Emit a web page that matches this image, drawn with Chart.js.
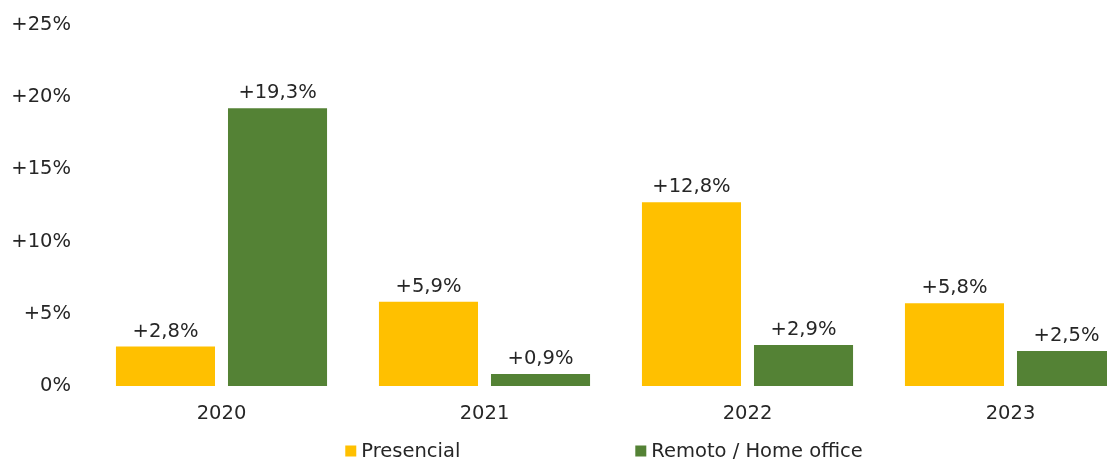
<!DOCTYPE html>
<html lang="pt-BR">
<head>
<meta charset="utf-8">
<script src="https://cdn.jsdelivr.net/npm/chart.js@4.4.0/dist/chart.umd.min.js"></script>
<style>
  html, body { margin: 0; padding: 0; background: #fff; overflow: hidden; }
  #caixa { width: 1142px; height: 459px; }
</style>
</head>
<body>
<div id="caixa"><canvas id="grafico"></canvas></div>
<script>
// dados do grafico
const anos = ['2020', '2021', '2022', '2023'];
const presencial = [2.8, 5.9, 12.8, 5.8];
const remoto = [19.3, 0.9, 2.9, 2.5];
const nomesSeries = ['Presencial', 'Remoto / Home office'];
const ticksY = [0, 5, 10, 15, 20, 25];

const corTexto = '#262626';
const fonte = '"DejaVu Sans", Verdana, sans-serif';

// formata 2.8 -> +2,8%
function formatarPct(v, casas) {
  const s = v.toFixed(casas).replace('.', ',');
  return v === 0 ? '0%' : '+' + s + '%';
}

// rotulos em cima das barras
const rotulosBarras = {
  id: 'rotulosBarras',
  afterDatasetsDraw(chart) {
    const ctx = chart.ctx;
    ctx.save();
    ctx.font = '19.5px ' + fonte;
    ctx.fillStyle = corTexto;
    ctx.textAlign = 'center';
    ctx.textBaseline = 'alphabetic';
    chart.data.datasets.forEach((ds, i) => {
      chart.getDatasetMeta(i).data.forEach((barra, j) => {
        ctx.fillText(formatarPct(ds.data[j], 1), barra.x, barra.y - 9);
      });
    });
    ctx.restore();
  }
};

// legenda embaixo, com espaco grande entre os itens
const legendaInferior = {
  id: 'legendaInferior',
  afterDraw(chart) {
    const ctx = chart.ctx;
    const area = chart.chartArea;
    ctx.save();
    ctx.font = '19.5px ' + fonte;
    ctx.textBaseline = 'middle';
    const caixa = 11, folga = 5, espaco = 175;
    const itens = chart.data.datasets.map(ds => ({ texto: ds.label, cor: ds.backgroundColor }));
    let total = 0;
    itens.forEach((it, k) => {
      it.larg = caixa + folga + ctx.measureText(it.texto).width;
      total += it.larg + (k > 0 ? espaco : 0);
    });
    let x = (area.left + area.right) / 2 - 12 - total / 2;
    const y = 451;
    itens.forEach(it => {
      ctx.fillStyle = it.cor;
      ctx.fillRect(x, y - caixa / 2, caixa, caixa);
      ctx.fillStyle = corTexto;
      ctx.fillText(it.texto, x + caixa + folga, y + 1);
      x += it.larg + espaco;
    });
    ctx.restore();
  }
};

new Chart(document.getElementById('grafico'), {
  type: 'bar',
  data: {
    labels: anos,
    datasets: [{
      label: nomesSeries[0],
      data: presencial,
      backgroundColor: '#FFC000',
      borderColor: 'rgba(255,255,255,0.55)',
      borderWidth: 1,
      categoryPercentage: 0.852,
      barPercentage: 0.902
    }, {
      label: nomesSeries[1],
      data: remoto,
      backgroundColor: '#548235',
      borderColor: 'rgba(255,255,255,0.55)',
      borderWidth: 1,
      categoryPercentage: 0.852,
      barPercentage: 0.902
    }]
  },
  options: {
    responsive: true,
    maintainAspectRatio: false,
    animation: false,
    layout: { padding: { top: 25, left: 0, right: 0, bottom: 0 } },
    plugins: {
      legend: { display: false },
      tooltip: { enabled: false }
    },
    scales: {
      x: {
        grid: { display: false, drawTicks: false },
        border: { display: false },
        ticks: { color: corTexto, font: { family: fonte, size: 19.5 }, padding: 16 },
        afterFit(s) { s.height = 73; s.paddingLeft = 0; s.paddingRight = 0; }
      },
      y: {
        min: 0,
        max: 25,
        afterBuildTicks(s) { s.ticks = ticksY.map(v => ({ value: v })); },
        grid: { display: false, drawTicks: false },
        border: { display: false },
        ticks: {
          color: corTexto,
          font: { family: fonte, size: 19.5 },
          padding: 19,
          callback: v => formatarPct(v, 0)
        },
        afterFit(s) { s.width = 90; s.paddingTop = 0; s.paddingBottom = 0; }
      }
    }
  },
  plugins: [rotulosBarras, legendaInferior]
});
</script>
</body>
</html>
